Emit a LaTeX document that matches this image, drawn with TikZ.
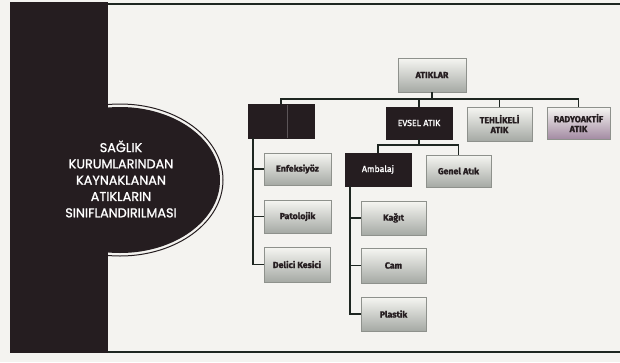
\documentclass[tikz,border=0pt]{standalone}
\usepackage{fontspec}
\setmainfont{Poppins}
\newfontfamily\titlefont{Poppins}[FakeBold=1.2]
\newfontfamily\boxfont{Fira Sans}[FakeBold=1.5]
\usetikzlibrary{shadows}
\definecolor{darkc}{HTML}{251D20}
\definecolor{linec}{HTML}{1E2621}
\definecolor{bgc}{HTML}{F4F3F0}
\definecolor{boxtop}{HTML}{F6F6F2}
\definecolor{boxbot}{HTML}{A5A9A4}
\definecolor{boxedge}{HTML}{8E918C}
\tikzset{
  lbox/.style={rectangle, inner sep=0pt, top color=boxtop, bottom color=boxbot,
    draw=boxedge, line width=0.6pt, text=darkc,
    font=\boxfont\bfseries\fontsize{8.8}{9.8}\selectfont, align=center,
    drop shadow={shadow xshift=1.3pt, shadow yshift=-1.3pt, fill=black!55, opacity=0.8}},
  dbox/.style={rectangle, inner sep=0pt, fill=darkc, draw=darkc, text=white,
    font=\boxfont\fontsize{8.8}{9.8}\selectfont, align=center},
  conn/.style={draw=linec, line width=1.6pt},
}
\begin{document}
\begin{tikzpicture}[x=1pt, y=-1pt]
\useasboundingbox (0,0) rectangle (620,362);
\fill[bgc] (0,0) rectangle (620,362);
% left band and frame lines
\fill[darkc] (10,2) rectangle (108,353);
\draw[linec, line width=2pt] (108,4) -- (620,4);
\draw[linec, line width=2.4pt] (108,352) -- (620,352);
% ellipse
\begin{scope}
\clip (108,0) rectangle (620,362);
\draw[darkc, line width=1pt] (120,180) ellipse [x radius=103, y radius=76];
\end{scope}
\fill[darkc] (120,180) ellipse [x radius=100, y radius=73];
\node[text=white, align=center, font=\titlefont\fontsize{12.8}{16.3}\selectfont] (title) at (121,179)
  {SAĞLIK\\KURUMLARINDAN\\KAYNAKLANAN\\ATIKLARIN\\SINIFLANDIRILMASI};
% org chart
\node[lbox, minimum width=68pt, minimum height=34pt] (atiklar) at (432,75) {ATIKLAR};
\node[dbox, minimum width=66pt, minimum height=34pt] (blank) at (281,121) {};
\draw[darkc!75!white, line width=0.8pt] (287,104.5) -- (287,137.5);
\node[dbox, minimum width=66pt, minimum height=32pt] (evsel) at (419,123) {EVSEL ATIK};
\node[lbox, minimum width=65pt, minimum height=34pt] (tehlikeli) at (499.5,124) {TEHLİKELİ\\ATIK};
\node[lbox, minimum width=63pt, minimum height=32pt, bottom color=boxbot!85!magenta!70!gray] (radyo) at (578.5,123) {RADYOAKTİF\\ATIK};
\node[dbox, minimum width=66pt, minimum height=33pt] (ambalaj) at (378,169.5) {Ambalaj};
\node[lbox, minimum width=65pt, minimum height=32pt] (genel) at (458.5,171) {Genel Atık};
\node[lbox, minimum width=67pt, minimum height=32pt] (enf) at (297.5,169) {Enfeksiyöz};
\node[lbox, minimum width=67pt, minimum height=33pt] (pato) at (297.5,216.5) {Patolojik};
\node[lbox, minimum width=66pt, minimum height=35pt] (delici) at (297,264.5) {Delici Kesici};
\node[lbox, minimum width=65pt, minimum height=34pt] (kagit) at (393.5,218) {Kağıt};
\node[lbox, minimum width=65pt, minimum height=35pt] (cam) at (393.5,265.5) {Cam};
\node[lbox, minimum width=65pt, minimum height=34pt] (plastik) at (393.5,314) {Plastik};
% connectors
\coordinate (bus) at (0,99);
\coordinate (bus2) at (0,145);
\coordinate (lc) at (253,138);
\coordinate (ac) at (350,186);
\draw[conn] (atiklar.south) -- (atiklar.south |- bus);
\draw[conn] (blank.north) -- (blank.north |- bus) -| (radyo.north);
\draw[conn] (evsel.north) -- (evsel.north |- bus);
\draw[conn] (tehlikeli.north) -- (tehlikeli.north |- bus);
\draw[conn] (evsel.south) -- (evsel.south |- bus2);
\draw[conn] (ambalaj.north) -- (ambalaj.north |- bus2) -| (genel.north);
\draw[conn] (lc) |- (delici.west);
\draw[conn] (lc |- enf.west) -- (enf.west);
\draw[conn] (lc |- pato.west) -- (pato.west);
\draw[conn] (ac) |- (plastik.west);
\draw[conn] (ac |- kagit.west) -- (kagit.west);
\draw[conn] (ac |- cam.west) -- (cam.west);
\end{tikzpicture}
\end{document}
